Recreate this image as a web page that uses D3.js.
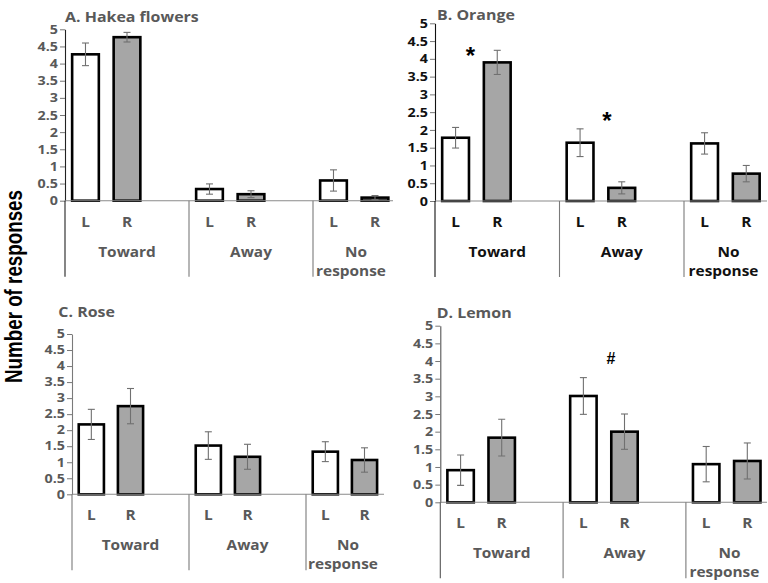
<!DOCTYPE html>
<html><head><meta charset="utf-8">
<script src="https://cdn.jsdelivr.net/npm/d3@7"></script>
<style>body{margin:0;background:#fff}svg{display:block}</style>
</head><body>
<svg id="c" width="768" height="583"></svg>
<script>
// ---------- data ----------
const groups = ["Toward", "Away", "No response"];
const sides = ["L", "R"];
const yTicks = [0, 0.5, 1, 1.5, 2, 2.5, 3, 3.5, 4, 4.5, 5];
const yAxisTitle = "Number of responses";
const titles = ["A. Hakea flowers", "B. Orange", "C. Rose", "D. Lemon"];

const hakeaL = [4.27, 0.34, 0.59];
const hakeaR = [4.77, 0.19, 0.09];
const hakeaErrL = [0.33, 0.15, 0.31];
const hakeaErrR = [0.14, 0.10, 0.06];

const orangeL = [1.78, 1.64, 1.62];
const orangeR = [3.90, 0.37, 0.77];
const orangeErrL = [0.29, 0.39, 0.30];
const orangeErrR = [0.34, 0.17, 0.23];

const roseL = [2.18, 1.52, 1.33];
const roseR = [2.75, 1.17, 1.07];
const roseErrL = [0.47, 0.43, 0.31];
const roseErrR = [0.55, 0.39, 0.38];

const lemonL = [0.91, 3.01, 1.08];
const lemonR = [1.83, 2.00, 1.17];
const lemonErrL = [0.43, 0.52, 0.50];
const lemonErrR = [0.52, 0.50, 0.51];

const orangeMarkGroups = ["Toward", "Away"];
const orangeMarkSymbols = ["*", "*"];
const orangeMarkLevels = [4.27, 2.44];
const lemonMarkGroups = ["Away"];
const lemonMarkSymbols = ["#"];
const lemonMarkLevels = [4.08];

// ---------- layout ----------
const SX = 1.1;           // horizontal stretch of the original figure's text
const FONT = "'Open Sans', Lato, sans-serif";
const GREY = "#595959";

const panels = [
  {title: titles[0], L: hakeaL, R: hakeaR, eL: hakeaErrL, eR: hakeaErrR,
   mg: [], ms: [], ml: [],
   x0: 65, gw: 124, xEnd: 393, y0: 200.7, y5: 29.3, tickFs: 13,
   tx: 65, ty: 21.7, tickCol: GREY, labCol: GREY, yAxisCol: "#222", mdx: []},
  {title: titles[1], L: orangeL, R: orangeR, eL: orangeErrL, eR: orangeErrR,
   mg: orangeMarkGroups, ms: orangeMarkSymbols, ml: orangeMarkLevels,
   x0: 435, gw: 124.5, xEnd: 767, y0: 201, y5: 23.3, tickFs: 13,
   tx: 437, ty: 20, tickCol: "#111", labCol: "#111", yAxisCol: "#111", mdx: [-6, 6]},
  {title: titles[2], L: roseL, R: roseR, eL: roseErrL, eR: roseErrR,
   mg: [], ms: [], ml: [],
   x0: 72, gw: 117, xEnd: 384, y0: 494.3, y5: 334, tickFs: 12,
   tx: 58.3, ty: 317.3, tickCol: GREY, labCol: GREY, yAxisCol: "#7a7a7a", mdx: []},
  {title: titles[3], L: lemonL, R: lemonR, eL: lemonErrL, eR: lemonErrR,
   mg: lemonMarkGroups, ms: lemonMarkSymbols, ml: lemonMarkLevels,
   x0: 440.3, gw: 122.8, xEnd: 767, y0: 502.3, y5: 325.7, tickFs: 13,
   tx: 436.7, ty: 318.3, tickCol: GREY, labCol: GREY, yAxisCol: "#555", mdx: [7]}
];

const svg = d3.select("#c");
svg.append("rect").attr("width", 768).attr("height", 583).attr("fill", "#fff");

function txt(g, x, y, s, size, col, anchor, weight, sx) {
  return g.append("text")
    .attr("transform", `translate(${x},${y}) scale(${sx || SX},1)`)
    .attr("text-anchor", anchor || "middle")
    .attr("font-family", FONT)
    .attr("font-weight", weight || "bold")
    .attr("font-size", size)
    .attr("fill", col)
    .text(s);
}

panels.forEach((p, pi) => {
  const g = svg.append("g");
  const y = d3.scaleLinear().domain([0, 5]).range([p.y0, p.y5]);
  const xg = d3.scaleBand().domain(groups).range([p.x0, p.x0 + 3 * p.gw]).padding(0);
  const xs = d3.scaleBand().domain(["L", "R", "_"]).range([0, p.gw])
    .paddingInner(0.357).paddingOuter(0.172);
  const bw = xs.bandwidth();

  const clipId = "clip" + pi;
  g.append("clipPath").attr("id", clipId).append("rect")
    .attr("x", p.x0 - 60).attr("y", 0).attr("width", p.xEnd - p.x0 + 60).attr("height", 583);
  const cg = g.append("g").attr("clip-path", `url(#${clipId})`);

  // y axis
  const yAxis = d3.axisLeft(y).tickValues(yTicks).tickSize(5).tickSizeOuter(0)
    .tickFormat(d => String(d));
  const ya = g.append("g").attr("transform", `translate(${p.x0},0)`).call(yAxis);
  ya.select(".domain").attr("stroke", p.yAxisCol).attr("stroke-width", 1.1);
  ya.selectAll(".tick line").attr("stroke", "#777");
  ya.selectAll(".tick text").remove();
  yTicks.forEach(t => {
    txt(g, p.x0 - 7, y(t) + p.tickFs * 0.355, String(t), p.tickFs, p.tickCol, "end", "bold",
        SX * 13 / p.tickFs);
  });

  // title
  txt(g, p.tx, p.ty, p.title, 14.5, GREY, "start");

  // bars
  const rows = [];
  groups.forEach((grp, i) => {
    rows.push({grp, side: "L", v: p.L[i], e: p.eL[i]});
    rows.push({grp, side: "R", v: p.R[i], e: p.eR[i]});
  });
  cg.selectAll("rect.bar").data(rows).join("rect")
    .attr("class", "bar")
    .attr("x", d => xg(d.grp) + xs(d.side))
    .attr("y", d => y(d.v))
    .attr("width", bw)
    .attr("height", d => y(0) - y(d.v))
    .attr("fill", d => d.side === "L" ? "#ffffff" : "#a6a6a6")
    .attr("stroke", "#000").attr("stroke-width", 2.6);

  // x axis line
  g.append("line").attr("x1", p.x0).attr("x2", p.xEnd).attr("y1", y(0)).attr("y2", y(0))
    .attr("stroke", "#8a8a8a").attr("stroke-width", 1.1);

  // error bars
  const eb = cg.selectAll("g.eb").data(rows).join("g").attr("class", "eb")
    .attr("stroke", "#707070").attr("stroke-width", 1.1);
  eb.append("line")
    .attr("x1", d => xg(d.grp) + xs(d.side) + bw / 2).attr("x2", d => xg(d.grp) + xs(d.side) + bw / 2)
    .attr("y1", d => y(d.v + d.e)).attr("y2", d => y(Math.max(0, d.v - d.e)));
  [1, -1].forEach(sg => {
    eb.append("line")
      .attr("x1", d => xg(d.grp) + xs(d.side) + bw / 2 - 3.5)
      .attr("x2", d => xg(d.grp) + xs(d.side) + bw / 2 + 3.5)
      .attr("y1", d => y(Math.max(0, d.v + sg * d.e)))
      .attr("y2", d => y(Math.max(0, d.v + sg * d.e)));
  });

  // category separators below axis
  groups.forEach((grp, i) => {
    const xx = xg(grp);
    g.append("line").attr("x1", xx).attr("x2", xx)
      .attr("y1", y(0)).attr("y2", y(0) + 76)
      .attr("stroke", i === 0 ? p.yAxisCol : "#7a7a7a").attr("stroke-width", 1.1);
  });

  // L / R labels
  rows.forEach(d => {
    const cx = xg(d.grp) + xs(d.side) + bw / 2;
    if (cx < p.xEnd) txt(g, cx, y(0) + 26, d.side, 14, p.labCol);
  });

  // group labels
  groups.forEach((grp, i) => {
    const a = xg(grp), b = Math.min(a + p.gw, p.xEnd);
    const cx = (a + b) / 2;
    const words = grp.split(" ");
    if (words.length === 1) {
      txt(g, cx, y(0) + 56, grp, 14, p.labCol);
    } else {
      txt(g, cx + 3, y(0) + 56, words[0], 14, p.labCol);
      txt(g, cx - 2, y(0) + 75, words[1], 14, p.labCol);
    }
  });

  // significance marks
  p.mg.forEach((grp, i) => {
    const cx = xg(grp) + (xs("L") + xs("R") + bw) / 2 + p.mdx[i];
    const sym = p.ms[i];
    const fs = sym === "*" ? 24 : 16;
    const off = sym === "*" ? fs * 0.62 : fs * 0.36;
    g.append("text").attr("x", cx).attr("y", y(p.ml[i]) + off)
      .attr("text-anchor", "middle")
      .attr("font-family", "'Liberation Sans', Arial, sans-serif")
      .attr("font-weight", "bold").attr("font-size", fs).attr("fill", "#000")
      .text(sym);
  });
});

// shared y-axis title
svg.append("text")
  .attr("transform", "translate(21.5,286.5) rotate(-90)")
  .attr("text-anchor", "middle")
  .attr("font-family", "'Liberation Sans', Arial, sans-serif")
  .attr("font-weight", "bold")
  .attr("font-size", 24)
  .attr("fill", "#000")
  .attr("textLength", 193)
  .attr("lengthAdjust", "spacingAndGlyphs")
  .text(yAxisTitle);
</script>
</body></html>
